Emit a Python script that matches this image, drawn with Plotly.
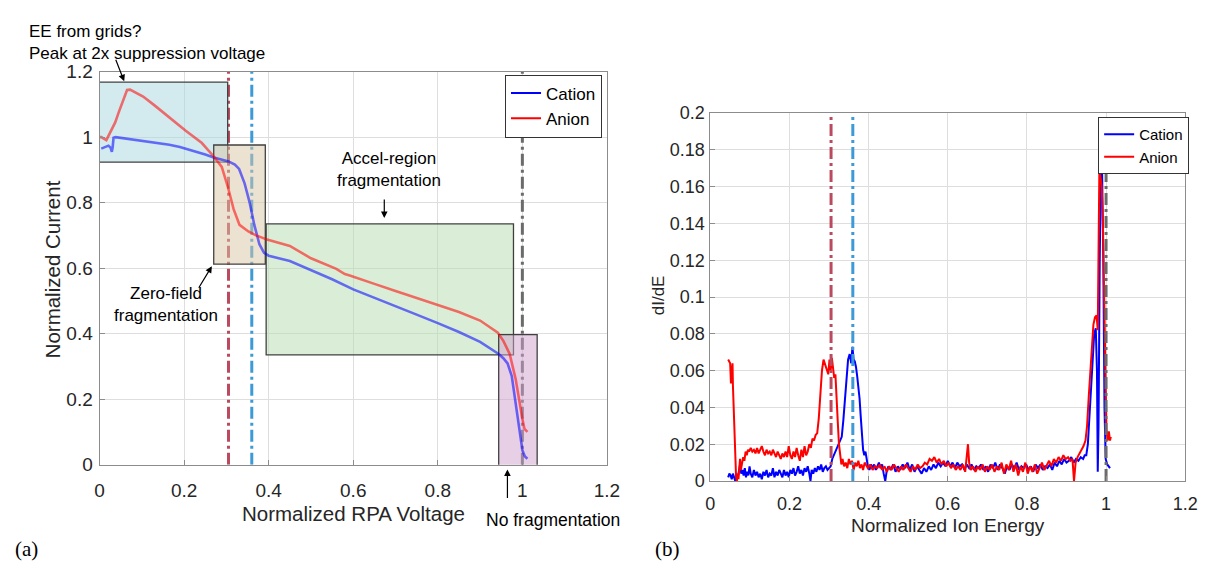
import plotly.graph_objects as go

W, H = 1212, 571

# ---------------- Panel (a): normalized current vs RPA voltage ----------------
cat_v = [0.004, 0.012, 0.021, 0.026, 0.029, 0.031, 0.033, 0.038, 0.05, 0.07, 0.087, 0.11, 0.13,
         0.165, 0.19, 0.226, 0.25, 0.27, 0.29, 0.305, 0.32, 0.33, 0.343, 0.355, 0.366, 0.378,
         0.389, 0.40, 0.45, 0.5, 0.55, 0.6, 0.65, 0.7, 0.75, 0.8, 0.85, 0.9, 0.944, 0.955,
         0.965, 0.975, 0.981, 0.988, 0.994, 1.0, 1.006, 1.012]
cat_i = [0.965, 0.970, 0.974, 0.968, 0.955, 0.970, 0.998, 1.000, 0.998, 0.995, 0.991, 0.988, 0.984,
         0.977, 0.970, 0.957, 0.947, 0.938, 0.931, 0.926, 0.916, 0.903, 0.859, 0.800, 0.732, 0.673,
         0.647, 0.638, 0.622, 0.594, 0.566, 0.535, 0.510, 0.484, 0.458, 0.432, 0.405, 0.375, 0.338, 0.325,
         0.309, 0.270, 0.212, 0.153, 0.100, 0.044, 0.025, 0.018]

an_v = [0.0, 0.004, 0.016, 0.026, 0.037, 0.045, 0.052, 0.06, 0.065, 0.072, 0.079, 0.09, 0.103,
        0.13, 0.165, 0.203, 0.242, 0.27, 0.289, 0.303, 0.317, 0.331, 0.352, 0.37, 0.389, 0.394,
        0.45, 0.5, 0.56, 0.58, 0.59, 0.61, 0.65, 0.7, 0.75, 0.8, 0.85, 0.9, 0.942, 0.955,
        0.97, 0.984, 0.993, 1.0, 1.005, 1.012]
an_i = [1.000, 1.000, 0.991, 1.015, 1.045, 1.075, 1.100, 1.130, 1.144, 1.145, 1.140, 1.133, 1.124,
        1.097, 1.060, 1.020, 0.982, 0.941, 0.909, 0.850, 0.780, 0.732, 0.712, 0.700, 0.691, 0.688,
        0.668, 0.630, 0.598, 0.582, 0.578, 0.570, 0.552, 0.530, 0.508, 0.486, 0.466, 0.440, 0.403, 0.378,
        0.338, 0.262, 0.190, 0.140, 0.109, 0.100]

# ---------------- Panel (b): dI/dE vs normalized ion energy ----------------
cat_e = [0.045, 0.048, 0.051, 0.054, 0.057, 0.060, 0.063, 0.066, 0.069, 0.072, 0.075, 0.078, 0.081,
         0.084, 0.087, 0.090, 0.093, 0.096, 0.099, 0.102, 0.106, 0.110, 0.114, 0.118, 0.122, 0.126,
         0.130, 0.134, 0.138, 0.142, 0.146, 0.150, 0.154, 0.158, 0.162, 0.166, 0.170, 0.174, 0.178,
         0.182, 0.186, 0.190, 0.194, 0.198, 0.202, 0.206, 0.210, 0.214, 0.218, 0.222, 0.226, 0.230,
         0.234, 0.238, 0.242, 0.246, 0.250, 0.253, 0.256, 0.260, 0.264, 0.268, 0.272, 0.276, 0.280,
         0.284, 0.288, 0.292, 0.296, 0.300, 0.304, 0.308, 0.312, 0.316, 0.320, 0.324, 0.328, 0.332,
         0.336, 0.340, 0.344, 0.348, 0.352, 0.356, 0.359, 0.362, 0.365, 0.368, 0.371, 0.374, 0.377,
         0.380, 0.383, 0.386, 0.389, 0.392, 0.395, 0.398, 0.402, 0.406, 0.410, 0.414, 0.418, 0.422,
         0.426, 0.430, 0.434, 0.438, 0.442, 0.446, 0.450, 0.456, 0.462, 0.468, 0.474, 0.480, 0.486,
         0.492, 0.498, 0.504, 0.510, 0.516, 0.522, 0.528, 0.534, 0.540, 0.546, 0.552, 0.558, 0.564,
         0.570, 0.576, 0.582, 0.588, 0.594, 0.600, 0.606, 0.612, 0.618, 0.624, 0.630, 0.636, 0.642,
         0.648, 0.654, 0.660, 0.666, 0.672, 0.678, 0.684, 0.690, 0.696, 0.702, 0.708, 0.714, 0.720,
         0.726, 0.732, 0.738, 0.744, 0.750, 0.756, 0.762, 0.768, 0.774, 0.780, 0.786, 0.792, 0.798,
         0.804, 0.810, 0.816, 0.822, 0.828, 0.834, 0.840, 0.846, 0.852, 0.858, 0.864, 0.870, 0.876,
         0.882, 0.888, 0.894, 0.900, 0.906, 0.912, 0.918, 0.924, 0.930, 0.936, 0.942, 0.946, 0.950,
         0.954, 0.958, 0.962, 0.966, 0.970, 0.974, 0.977, 0.979, 0.981, 0.984, 0.987, 0.990, 0.993,
         0.996, 0.999, 1.003, 1.007, 1.010]
cat_d = [0.002, 0.004, 0.003, 0.001, 0.004, 0.002, 0.000, 0.003, 0.002, 0.005, 0.009, 0.004, 0.006,
         0.003, 0.007, 0.002, 0.005, 0.003, 0.008, 0.004, 0.002, 0.006, 0.003, 0.005, 0.002, 0.004,
         0.001, 0.005, 0.003, 0.006, 0.002, 0.004, 0.003, 0.007, 0.002, 0.005, 0.003, 0.006, 0.004,
         0.002, 0.006, 0.003, 0.005, 0.002, 0.006, 0.004, 0.007, 0.003, 0.005, 0.008, 0.004, 0.006,
         0.003, 0.007, 0.005, 0.008, 0.004, 0.000, 0.006, 0.004, 0.007, 0.005, 0.008, 0.006, 0.009,
         0.005, 0.007, 0.008, 0.006, 0.007, 0.008, 0.012, 0.014, 0.016, 0.018, 0.020, 0.021, 0.024,
         0.033, 0.045, 0.057, 0.066, 0.069, 0.064, 0.073, 0.066, 0.065, 0.062, 0.057, 0.052, 0.045,
         0.035, 0.025, 0.017, 0.014, 0.016, 0.012, 0.008, 0.006, 0.009, 0.007, 0.009, 0.006, 0.008,
         0.010, 0.007, 0.009, 0.004, 0.000, 0.006, 0.008, 0.006, 0.009, 0.005, 0.008, 0.006, 0.009,
         0.007, 0.010, 0.006, 0.009, 0.005, 0.008, 0.006, 0.004, 0.007, 0.005, 0.008, 0.006, 0.009,
         0.007, 0.010, 0.008, 0.010, 0.008, 0.011, 0.008, 0.010, 0.007, 0.010, 0.008, 0.009, 0.006,
         0.009, 0.007, 0.009, 0.006, 0.008, 0.007, 0.009, 0.006, 0.008, 0.005, 0.009, 0.007, 0.010,
         0.006, 0.009, 0.007, 0.004, 0.008, 0.006, 0.009, 0.007, 0.010, 0.006, 0.008, 0.007, 0.009,
         0.006, 0.008, 0.005, 0.009, 0.007, 0.009, 0.006, 0.008, 0.007, 0.009, 0.006, 0.010, 0.008,
         0.011, 0.009, 0.012, 0.010, 0.011, 0.013, 0.010, 0.012, 0.011, 0.013, 0.012, 0.014, 0.014,
         0.020, 0.035, 0.055, 0.070, 0.080, 0.083, 0.060, 0.005, 0.030, 0.120, 0.172, 0.168, 0.120,
         0.040, 0.012, 0.009, 0.008, 0.007]

an_e = [0.045, 0.048, 0.050, 0.052, 0.054, 0.056, 0.057, 0.059, 0.061, 0.063, 0.065, 0.067, 0.069,
        0.071, 0.073, 0.075, 0.077, 0.080, 0.083, 0.086, 0.089, 0.092, 0.095, 0.098, 0.102, 0.106,
        0.110, 0.114, 0.118, 0.122, 0.126, 0.130, 0.134, 0.138, 0.142, 0.146, 0.150, 0.154, 0.158,
        0.162, 0.166, 0.170, 0.174, 0.178, 0.182, 0.186, 0.190, 0.194, 0.198, 0.202, 0.206, 0.210,
        0.214, 0.218, 0.222, 0.226, 0.230, 0.234, 0.238, 0.242, 0.246, 0.250, 0.254, 0.258, 0.262,
        0.266, 0.270, 0.274, 0.278, 0.282, 0.286, 0.290, 0.294, 0.298, 0.301, 0.304, 0.307, 0.310,
        0.313, 0.316, 0.319, 0.322, 0.325, 0.328, 0.331, 0.334, 0.338, 0.342, 0.346, 0.350, 0.354,
        0.358, 0.362, 0.366, 0.370, 0.374, 0.378, 0.382, 0.386, 0.390, 0.394, 0.398, 0.404, 0.410,
        0.416, 0.422, 0.428, 0.434, 0.440, 0.446, 0.452, 0.458, 0.464, 0.470, 0.476, 0.482, 0.488,
        0.494, 0.500, 0.506, 0.512, 0.518, 0.524, 0.530, 0.536, 0.542, 0.548, 0.554, 0.560, 0.566,
        0.572, 0.578, 0.584, 0.590, 0.596, 0.602, 0.608, 0.614, 0.620, 0.626, 0.632, 0.638, 0.644,
        0.648, 0.651, 0.654, 0.658, 0.664, 0.670, 0.676, 0.682, 0.688, 0.694, 0.700, 0.706, 0.712,
        0.718, 0.724, 0.730, 0.736, 0.742, 0.748, 0.754, 0.760, 0.766, 0.772, 0.778, 0.784, 0.790,
        0.796, 0.802, 0.808, 0.814, 0.820, 0.826, 0.832, 0.838, 0.844, 0.850, 0.856, 0.862, 0.868,
        0.874, 0.880, 0.886, 0.892, 0.898, 0.904, 0.910, 0.915, 0.919, 0.923, 0.928, 0.933, 0.938,
        0.943, 0.948, 0.952, 0.956, 0.960, 0.964, 0.968, 0.972, 0.976, 0.979, 0.981, 0.983, 0.986,
        0.989, 0.992, 0.995, 0.998, 1.001, 1.004, 1.007, 1.010, 1.012]
an_d = [0.066, 0.065, 0.064, 0.053, 0.062, 0.064, 0.052, 0.040, 0.025, 0.010, 0.002, 0.000, 0.004,
        0.001, 0.008, 0.012, 0.006, 0.010, 0.013, 0.011, 0.016, 0.014, 0.017, 0.016, 0.018, 0.016,
        0.017, 0.015, 0.018, 0.015, 0.017, 0.019, 0.016, 0.014, 0.017, 0.015, 0.016, 0.014, 0.017,
        0.015, 0.013, 0.016, 0.014, 0.012, 0.015, 0.013, 0.016, 0.013, 0.019, 0.014, 0.012, 0.016,
        0.013, 0.018, 0.014, 0.011, 0.017, 0.013, 0.019, 0.014, 0.016, 0.020, 0.018, 0.023, 0.022,
        0.025, 0.026, 0.034, 0.047, 0.060, 0.066, 0.063, 0.061, 0.058, 0.066, 0.060, 0.067, 0.062,
        0.056, 0.058, 0.048, 0.032, 0.020, 0.013, 0.009, 0.012, 0.008, 0.010, 0.007, 0.012, 0.009,
        0.011, 0.006, 0.010, 0.008, 0.011, 0.007, 0.009, 0.006, 0.010, 0.008, 0.007, 0.009, 0.006,
        0.008, 0.007, 0.009, 0.006, 0.008, 0.005, 0.008, 0.006, 0.009, 0.007, 0.005, 0.008, 0.006,
        0.009, 0.007, 0.005, 0.008, 0.006, 0.009, 0.007, 0.008, 0.010, 0.009, 0.012, 0.011, 0.013,
        0.010, 0.012, 0.009, 0.011, 0.008, 0.010, 0.007, 0.009, 0.006, 0.008, 0.006, 0.009, 0.005,
        0.012, 0.020, 0.010, 0.006, 0.008, 0.005, 0.008, 0.006, 0.009, 0.005, 0.008, 0.006, 0.009,
        0.005, 0.008, 0.006, 0.010, 0.004, 0.009, 0.006, 0.011, 0.005, 0.009, 0.003, 0.008, 0.005,
        0.010, 0.004, 0.008, 0.005, 0.009, 0.004, 0.007, 0.010, 0.006, 0.009, 0.011, 0.008, 0.012,
        0.010, 0.013, 0.011, 0.014, 0.012, 0.013, 0.011, 0.012, 0.000, 0.010, 0.013, 0.015, 0.017,
        0.019, 0.022, 0.030, 0.045, 0.060, 0.075, 0.085, 0.089, 0.090, 0.082, 0.120, 0.168, 0.165,
        0.160, 0.140, 0.100, 0.050, 0.028, 0.022, 0.027, 0.022, 0.024]

# reference energies (dash-dot guide lines)
ref_x = [0.305, 0.36, 1.0]
ref_colors = ["#bb4a5e", "#3d9ad6", "#6b6b6b"]

# highlighted regions in panel (a): x0, x1, y0, y1, fill
regions = [
    (-0.015, 0.303, 0.924, 1.168, "rgba(168,214,222,0.5)"),
    (0.270, 0.392, 0.612, 0.976, "rgba(218,198,166,0.5)"),
    (0.394, 0.979, 0.335, 0.735, "rgba(182,221,176,0.5)"),
    (0.944, 1.035, -0.004, 0.397, "rgba(208,160,204,0.5)"),
]

FONT = "Liberation Sans, Arial, Helvetica, sans-serif"
SERIF = "Liberation Serif, Times New Roman, serif"
TXT = "#262626"
DASH = "12px,4px,3px,4px"

fig = go.Figure()

# Panel (a) curves (drawn semi-transparent over the highlighted regions)
fig.add_trace(go.Scatter(x=cat_v, y=cat_i, mode="lines", showlegend=False,
                         line=dict(color="rgba(0,0,255,0.55)", width=2.6), xaxis="x", yaxis="y"))
fig.add_trace(go.Scatter(x=an_v, y=an_i, mode="lines", showlegend=False,
                         line=dict(color="rgba(255,0,0,0.55)", width=2.6), xaxis="x", yaxis="y"))
# legend entries for panel (a)
fig.add_trace(go.Scatter(x=[None], y=[None], mode="lines", name="Cation",
                         line=dict(color="#0000ff", width=2), xaxis="x", yaxis="y",
                         legend="legend"))
fig.add_trace(go.Scatter(x=[None], y=[None], mode="lines", name="Anion",
                         line=dict(color="#ff0000", width=2), xaxis="x", yaxis="y",
                         legend="legend"))

# Panel (b) curves
fig.add_trace(go.Scatter(x=cat_e, y=cat_d, mode="lines", name="Cation",
                         line=dict(color="#0000ff", width=2), xaxis="x2", yaxis="y2",
                         legend="legend2"))
fig.add_trace(go.Scatter(x=an_e, y=an_d, mode="lines", name="Anion",
                         line=dict(color="#ff0000", width=2), xaxis="x2", yaxis="y2",
                         legend="legend2"))
for xv, c in zip(ref_x, ref_colors):
    fig.add_trace(go.Scatter(x=[xv, xv], y=[0, 0.2], mode="lines", showlegend=False,
                             line=dict(color=c, width=3, dash=DASH),
                             xaxis="x2", yaxis="y2", hoverinfo="skip"))

shapes = []
# guide lines in panel (a), beneath the region boxes
for xv, c in zip(ref_x, ref_colors):
    shapes.append(dict(type="line", xref="x", yref="y", x0=xv, x1=xv, y0=0, y1=1.2,
                       line=dict(color=c, width=3, dash=DASH), layer="between"))
for x0, x1, y0, y1, fc in regions:
    shapes.append(dict(type="rect", xref="x", yref="y", x0=x0, x1=x1, y0=y0, y1=y1,
                       fillcolor=fc, line=dict(color="#404040", width=1.3), layer="between"))


def px(x):
    return x / W


def py(y):
    return 1 - y / H


def axis_common(size):
    return dict(showgrid=True, gridcolor="#dedede", gridwidth=1, zeroline=False,
                showline=True, linecolor="#8c8c8c", linewidth=1, mirror=True,
                ticks="inside", ticklen=5, tickcolor="#8c8c8c",
                tickfont=dict(family=FONT, size=size, color=TXT))


ticks_a = [0, 0.2, 0.4, 0.6, 0.8, 1.0, 1.2]
labels_a = ["0", "0.2", "0.4", "0.6", "0.8", "1", "1.2"]
ticks_b = [0, 0.02, 0.04, 0.06, 0.08, 0.1, 0.12, 0.14, 0.16, 0.18, 0.2]
labels_b = ["0", "0.02", "0.04", "0.06", "0.08", "0.1", "0.12", "0.14", "0.16", "0.18", "0.2"]

fig.update_layout(
    width=W, height=H, autosize=False,
    margin=dict(l=0, r=0, t=0, b=0),
    paper_bgcolor="white", plot_bgcolor="white",
    font=dict(family=FONT, color=TXT),
    xaxis=dict(domain=[px(96), px(611)], range=[0, 1.2], anchor="y",
               tickvals=ticks_a, ticktext=labels_a, ticklabelstandoff=9, **axis_common(19)),
    yaxis=dict(domain=[py(472), py(64)], range=[0, 1.2], anchor="x",
               tickvals=ticks_a, ticktext=labels_a, ticklabelstandoff=2, **axis_common(19)),
    xaxis2=dict(domain=[px(716), px(1198)], range=[0, 1.2], anchor="y2",
                tickvals=ticks_a, ticktext=labels_a, ticklabelstandoff=6, **axis_common(18)),
    yaxis2=dict(domain=[py(489), py(107)], range=[0, 0.2], anchor="x2",
                tickvals=ticks_b, ticktext=labels_b, ticklabelstandoff=1, **axis_common(18)),
    legend=dict(x=px(606), xanchor="right", y=py(67), yanchor="top",
                bgcolor="white", bordercolor="#333333", borderwidth=1, itemwidth=30,
                font=dict(family=FONT, size=17, color="#000000"), tracegroupgap=0),
    legend2=dict(x=px(1202), xanchor="right", y=py(111), yanchor="top",
                 bgcolor="white", bordercolor="#333333", borderwidth=1, itemwidth=30,
                 font=dict(family=FONT, size=15, color="#000000"), tracegroupgap=0),
    shapes=shapes,
    showlegend=True,
)

ann = []


def text(x, y, t, size=17, xanchor="center", yanchor="middle", angle=0, family=FONT,
         color="#000000", align="center"):
    ann.append(dict(x=px(x), y=py(y), xref="paper", yref="paper", text=t, showarrow=False,
                    xanchor=xanchor, yanchor=yanchor, textangle=angle, align=align,
                    font=dict(family=family, size=size, color=color)))


def arrow(hx, hy, tx, ty):
    ann.append(dict(x=px(hx), y=py(hy), xref="paper", yref="paper", text="",
                    showarrow=True, ax=tx - hx, ay=ty - hy, axref="pixel", ayref="pixel",
                    arrowhead=2, arrowsize=1.1, arrowwidth=1.2, arrowcolor="#000000",
                    standoff=0, startstandoff=0))


# axis titles
text(48, 269, "Normalized Current", size=20.5, angle=-90, color=TXT)
text(354, 523, "Normalized RPA Voltage", size=20.5, color=TXT)
text(663, 296, "dI/dE", size=17, angle=-90, color=TXT)
text(957, 535, "Normalized Ion Energy", size=19, color=TXT)

# panel (a) annotations
text(22, 10, "EE from grids?<br>Peak at 2x suppression voltage", xanchor="left", yanchor="top",
     align="left")
arrow(121, 74, 112, 51)
text(390, 166, "Accel-region<br>fragmentation")
arrow(385, 216, 385, 196)
text(163, 306, "Zero-field<br>fragmentation")
arrow(210, 266, 196, 289)
text(556, 529, "No fragmentation", size=17.5)
arrow(510, 477, 510, 507)

# panel labels
text(8, 560, "(a)", size=21, xanchor="left", family=SERIF)
text(658, 560, "(b)", size=21, xanchor="left", family=SERIF)

fig.update_layout(annotations=ann)

fig.write_html("out.html")
